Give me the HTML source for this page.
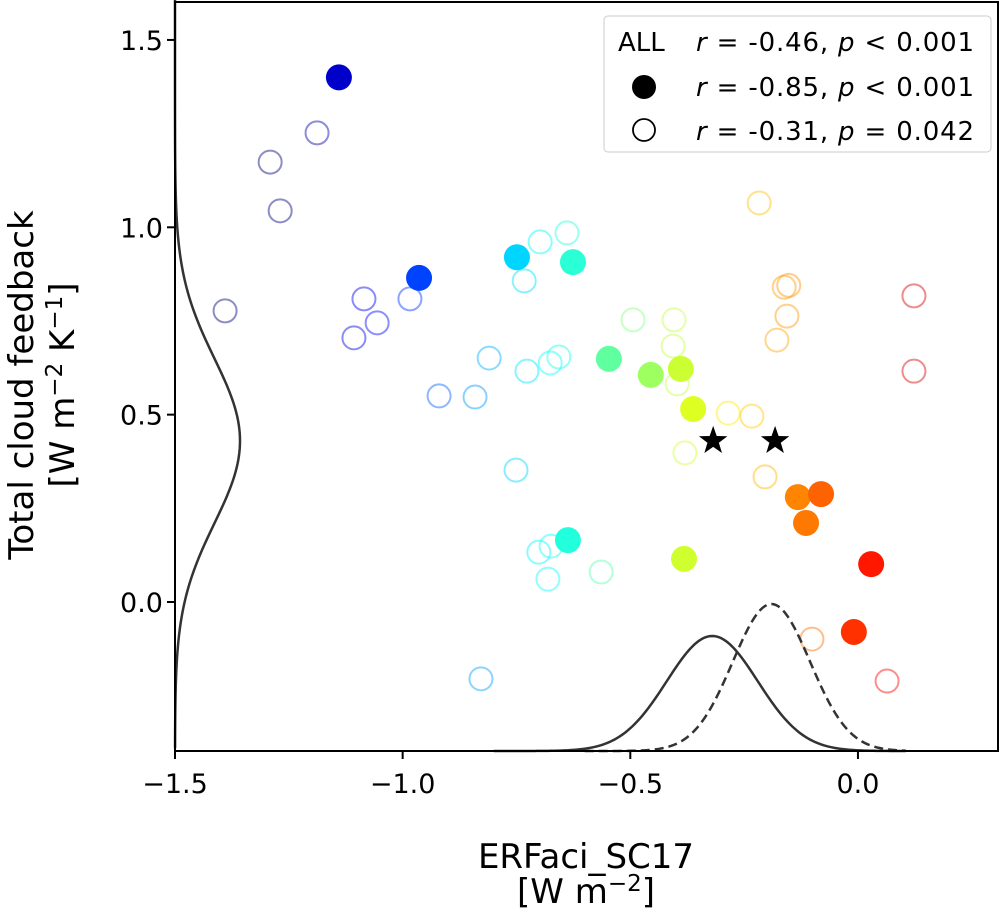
<!DOCTYPE html>
<html><head><meta charset="utf-8"><style>
body{margin:0;background:#fff;}
svg text{font-family:"DejaVu Sans","Liberation Sans",sans-serif;fill:#000;}
</style></head><body>
<svg id="c" width="1004" height="909" xmlns="http://www.w3.org/2000/svg">
<g id="marks"></g>
<g id="axes"></g>
<g>
<rect x="604" y="16" width="387" height="136" rx="4" fill="#fff" fill-opacity="0.85" stroke="#ccc"/>
<text x="618" y="51" style="font-size:26px">ALL</text>
<text x="696" y="51" style="font-size:26px" textLength="278"><tspan font-style="italic">r</tspan> = -0.46, <tspan font-style="italic">p</tspan> &lt; 0.001</text>
<circle cx="644" cy="87" r="12" fill="#000"/>
<text x="696" y="96" style="font-size:26px" textLength="278"><tspan font-style="italic">r</tspan> = -0.85, <tspan font-style="italic">p</tspan> &lt; 0.001</text>
<circle cx="644" cy="130" r="11" fill="none" stroke="#000" stroke-width="1.8"/>
<text x="696" y="140" style="font-size:26px" textLength="278"><tspan font-style="italic">r</tspan> = -0.31, <tspan font-style="italic">p</tspan> = 0.042</text>
</g>
</svg>
<script>
const filledX=[-1.14,-0.964,-0.749,-0.626,-0.547,-0.455,-0.389,-0.362,-0.637,-0.382,-0.132,-0.081,-0.114,0.029,-0.009];
const filledY=[1.40,0.865,0.92,0.907,0.649,0.606,0.622,0.515,0.165,0.115,0.28,0.288,0.211,0.101,-0.08];
const openX=[-1.39,-1.291,-1.188,-1.269,-1.085,-1.056,-1.107,-0.984,-0.92,-0.841,-0.81,-0.727,-0.698,-0.733,-0.639,-0.676,-0.657,-0.751,-0.701,-0.674,-0.681,-0.564,-0.828,-0.494,-0.404,-0.406,-0.397,-0.38,-0.217,-0.162,-0.152,-0.156,-0.178,-0.285,-0.233,-0.204,-0.101,0.064,0.123,0.123];
const openY=[0.777,1.174,1.252,1.044,0.809,0.745,0.705,0.809,0.55,0.547,0.651,0.616,0.961,0.857,0.985,0.638,0.654,0.352,0.133,0.149,0.061,0.08,-0.205,0.753,0.753,0.683,0.582,0.398,1.065,0.84,0.845,0.763,0.699,0.504,0.496,0.334,-0.099,-0.211,0.817,0.616];
const starX=[-0.318,-0.182];
const starY=[0.43,0.43];
const xTicks=[-1.5,-1.0,-0.5,0.0];
const yTicks=[0.0,0.5,1.0,1.5];
const kdeY={mean:0.43,sd:0.22};
const kdeXsolid={mean:-0.32,sd:0.1};
const kdeXdash={mean:-0.19,sd:0.085};

const L=175,R=998,T=2,B=751;
const X=v=>175+(v+1.5)*455.3;
const Y=v=>602-v*374.7;
const NS="http://www.w3.org/2000/svg";
function mk(t,a,p){const e=document.createElementNS(NS,t);for(const k in a)e.setAttribute(k,a[k]);(p||document.getElementById('marks')).appendChild(e);return e;}
function jet(t){t=Math.max(0,Math.min(1,t));const f=x=>Math.round(255*Math.max(0,Math.min(1,x)));
return [f(1.5-Math.abs(4*t-3)),f(1.5-Math.abs(4*t-2)),f(1.5-Math.abs(4*t-1))];}
const col=x=>jet((x+1.25)/1.5);
openX.forEach((x,i)=>{const c=col(x);
const e=mk('circle',{cx:X(x),cy:Y(openY[i]),r:11.5,fill:'none',stroke:`rgba(${c[0]},${c[1]},${c[2]},0.45)`,'stroke-width':2});

});
filledX.forEach((x,i)=>{const c=col(x);
const e=mk('circle',{cx:X(x),cy:Y(filledY[i]),r:13,fill:`rgb(${c[0]},${c[1]},${c[2]})`});

});
starX.forEach((x,i)=>{const cx=X(x),cy=Y(starY[i]);let p='';
for(let k=0;k<10;k++){const r=k%2?6:15,a=-Math.PI/2+k*Math.PI/5;p+=(cx+r*Math.cos(a))+','+(cy+r*Math.sin(a))+' ';}
const e=mk('polygon',{points:p,fill:'#000'});

});
const g=(v,m,s)=>Math.exp(-0.5*((v-m)/s)**2);
let d='';for(let v=1.61;v>=-0.4;v-=0.01){d+=(d?'L':'M')+(L+65*g(v,kdeY.mean,kdeY.sd))+','+Y(v);}
let e=mk('path',{d,fill:'none',stroke:'#333','stroke-width':2.5});


d='';for(let v=-0.8;v<=0.11;v+=0.005){d+=(d?'L':'M')+X(v)+','+(B-115*g(v,kdeXsolid.mean,kdeXsolid.sd));}
e=mk('path',{d,fill:'none',stroke:'#333','stroke-width':2.5});


d='';for(let v=-0.6;v<=0.11;v+=0.005){d+=(d?'L':'M')+X(v)+','+(B-147*g(v,kdeXdash.mean,kdeXdash.sd));}
e=mk('path',{d,fill:'none',stroke:'#333','stroke-width':2.5,'stroke-dasharray':'9,5'});


const ax=document.getElementById('axes');
e=mk('rect',{x:L,y:T,width:R-L,height:B-T,fill:'none',stroke:'#000','stroke-width':2},ax);


xTicks.forEach(v=>{mk('line',{x1:X(v),x2:X(v),y1:B,y2:B+8,stroke:'#000','stroke-width':2},ax);
const t=mk('text',{x:X(v),y:B+42,style:'font-size:27px','text-anchor':'middle'},ax);t.textContent=(v<0?'\u2212':'')+Math.abs(v).toFixed(1);

});
yTicks.forEach(v=>{mk('line',{x1:L-8,x2:L,y1:Y(v),y2:Y(v),stroke:'#000','stroke-width':2},ax);
const t=mk('text',{x:L-12,y:Y(v)+10,style:'font-size:27px','text-anchor':'end'},ax);t.textContent=v.toFixed(1);

});
</script>
<svg style="position:absolute;left:0;top:0" width="1004" height="909" xmlns="http://www.w3.org/2000/svg">
<text x="586" y="868" style="font-size:34px" text-anchor="middle">ERFaci_SC17</text>
<text x="586" y="903" style="font-size:34px" text-anchor="middle">[W m<tspan dy="-12" style="font-size:23px">−2</tspan><tspan dy="12">]</tspan></text>
<text transform="translate(33,385) rotate(-90)" style="font-size:34px" text-anchor="middle">Total cloud feedback</text>
<text transform="translate(74,385) rotate(-90)" style="font-size:34px" text-anchor="middle">[W m<tspan dy="-12" style="font-size:23px">−2</tspan><tspan dy="12"> K</tspan><tspan dy="-12" style="font-size:23px">−1</tspan><tspan dy="12">]</tspan></text>
</svg>
</body></html>
